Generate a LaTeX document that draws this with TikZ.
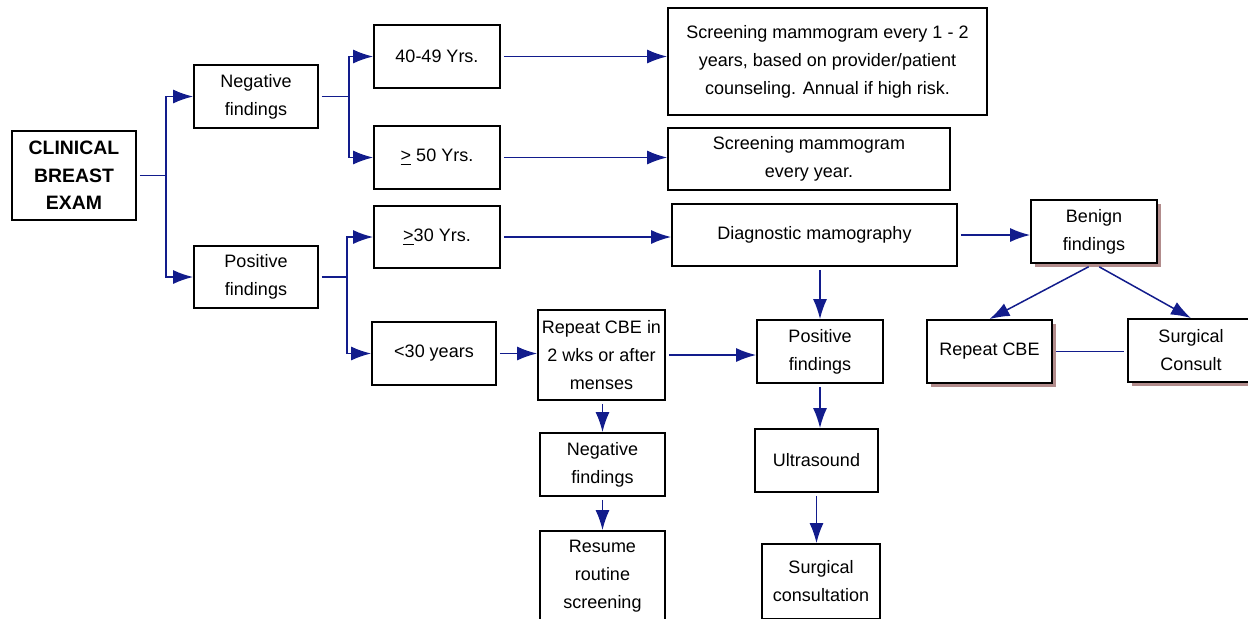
\documentclass[tikz,border=0pt]{standalone}
\usepackage{fontspec}
\setmainfont{Liberation Sans}
\usepackage{tikz}
\usetikzlibrary{
  arrows.meta,
  calc,
  positioning,
  shadows
}
\definecolor{flowblue}{RGB}{18,28,140}
\definecolor{shadowrose}{RGB}{178,140,140}
\tikzset{
  card/.style={draw=black,line width=0.9pt,fill=white,align=center,
    inner xsep=1pt,inner ysep=2pt,font=\fontsize{9}{14}\selectfont},
  shadowcard/.style={card,drop shadow={shadow xshift=2pt,shadow yshift=-2pt,
    fill=shadowrose,opacity=1}},
  flow/.style={-{Latex[length=10pt,width=7pt]},line width=0.75pt,
    draw=flowblue,shorten <=1.5pt},
  link/.style={line width=0.75pt,draw=flowblue,shorten <=1.5pt,shorten >=1.5pt}
}

\begin{document}
\begin{tikzpicture}[x=0.5pt,y=-0.5pt]
  \useasboundingbox (0,0) rectangle (1248,618);
  \clip (0,0) rectangle (1248,618);
  % left column
  \node[card,minimum width=62pt,minimum height=44.5pt,
    font=\fontsize{9.7}{13.75}\selectfont\bfseries] (cbe) at (74,175.5)
    {CLINICAL\\BREAST\\EXAM};
  \node[card,minimum width=62pt,minimum height=31.5pt] (neg1) at (256,96.5)
    {Negative\\findings};
  \node[card,minimum width=62pt,minimum height=31pt] (pos1) at (256,277)
    {Positive\\findings};
  % age groups
  \node[card,minimum width=63pt,minimum height=31.5pt] (y4049) at (437,56.5)
    {40-49 Yrs.};
  \node[card,minimum width=63pt,minimum height=31.5pt] (y50) at (437,157.5)
    {\underline{>} 50 Yrs.};
  \node[card,minimum width=63pt,minimum height=31pt] (y30) at (437,237)
    {\underline{>}30 Yrs.};
  \node[card,minimum width=62pt,minimum height=31.5pt] (ylt30) at (434,353.5)
    {<30 years};
  % outcomes
  \node[card,minimum width=159.5pt,minimum height=53.5pt] (scr1) at (827.5,61.5)
    {Screening mammogram every 1 - 2\\years, based on provider/patient\\
     counseling. Annual if high risk.};
  \node[card,minimum width=141pt,minimum height=31pt] (scr2) at (809,159)
    {Screening mammogram\\every year.};
  \node[card,minimum width=142.5pt,minimum height=31pt] (diag) at (814.5,235)
    {Diagnostic mamography};
  \node[shadowcard,minimum width=63pt,minimum height=31.5pt] (benign) at (1094,231.5)
    {Benign\\findings};
  \node[card,minimum width=63.5pt,minimum height=45pt] (rep1) at (601.5,355)
    {Repeat CBE in\\2 wks or after\\menses};
  \node[card,minimum width=63pt,minimum height=31.5pt] (pos2) at (820,351.5)
    {Positive\\findings};
  \node[shadowcard,minimum width=62.5pt,minimum height=31.5pt] (rep2) at (989.5,351.5)
    {Repeat CBE};
  \node[shadowcard,minimum width=63pt,minimum height=31.5pt] (surg1) at (1191,350.5)
    {Surgical\\Consult};
  \node[card,minimum width=62.5pt,minimum height=31.5pt] (neg2) at (602.5,464.5)
    {Negative\\findings};
  \node[card,minimum width=62.5pt,minimum height=45pt] (resume) at (602.5,576)
    {Resume\\routine\\screening};
  \node[card,minimum width=61.5pt,minimum height=31.5pt] (ultra) at (816.5,460.5)
    {Ultrasound};
  \node[card,minimum width=59pt,minimum height=37.5pt] (surgc) at (821,581.5)
    {Surgical\\consultation};
  % connectors
  \draw[flow] (cbe.east) -- ++(29,0) |- (neg1.west);
  \draw[flow] (cbe.east) -- ++(29,0) |- (pos1.west);
  \draw[flow] (neg1.east) -- ++(30,0) |- (y4049.west);
  \draw[flow] (neg1.east) -- ++(30,0) |- (y50.west);
  \draw[flow] (pos1.east) -- ++(28,0) |- (y30.west);
  \draw[flow] (pos1.east) -- ++(28,0) |- (ylt30.west);
  \draw[flow] (y4049.east) -- (y4049.east -| scr1.west);
  \draw[flow] (y50.east) -- (y50.east -| scr2.west);
  \draw[flow] (y30.east) -- (y30.east -| diag.west);
  \draw[flow] (ylt30.east) -- (ylt30.east -| rep1.west);
  \draw[flow] (rep1.east) -- (rep1.east -| pos2.west);
  \draw[flow] (pos2.north |- diag.south) -- (pos2.north);
  \draw[flow] (neg2.north |- rep1.south) -- (neg2.north);
  \draw[flow] (neg2.south) -- (resume.north);
  \draw[flow] (pos2.south) -- (pos2.south |- ultra.north);
  \draw[flow] (ultra.south) -- (ultra.south |- surgc.north);
  \draw[flow] (diag.east) -- (diag.east -| benign.west);
  \draw[flow,shorten <=3pt] (benign.south) -- (rep2.north);
  \draw[flow,shorten <=3pt] (benign.south) -- (surg1.north);
  \draw[link] (rep2.east) -- (rep2.east -| surg1.west);
\end{tikzpicture}
\end{document}
